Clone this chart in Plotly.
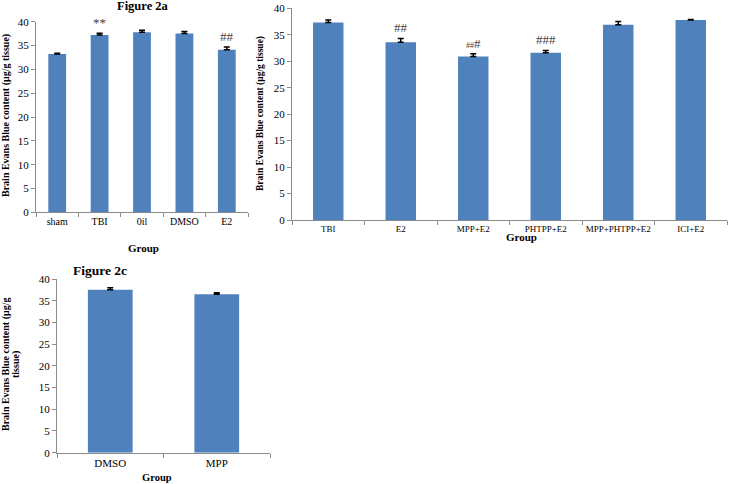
import plotly.graph_objects as go

# Panel a
cats_a = ["sham", "TBI", "0il", "DMSO", "E2"]
vals_a = [33.2, 37.2, 37.8, 37.5, 34.1]
errs_a = [0.2, 0.4, 0.4, 0.45, 0.6]
marks_a = ["", "**", "", "", "##"]

# Panel b
cats_b = ["TBI", "E2", "MPP+E2", "PHTPP+E2", "MPP+PHTPP+E2", "ICI+E2"]
vals_b = [37.3, 33.6, 30.9, 31.6, 36.9, 37.8]
errs_b = [0.5, 0.7, 0.5, 0.45, 0.6, 0.1]
marks_b = ["", "##", "<span style='font-size:8px'>##</span>#", "###", "", ""]

# Panel c
cats_c = ["DMSO", "MPP"]
vals_c = [37.5, 36.5]
errs_c = [0.5, 0.35]

y_ticks = [0, 5, 10, 15, 20, 25, 30, 35, 40]

W, H = 732, 484
BAR = "#4F81BD"
FONT = "Liberation Serif"
AXC = "#8c8c8c"


def px_x(p):
    return p / W


def px_y(p):
    return 1 - p / H


fig = go.Figure()

panels = [
    ("x", "y", cats_a, vals_a, errs_a, (36, 248), (212.3, 21.7), 10),
    ("x2", "y2", cats_b, vals_b, errs_b, (292, 727), (220, 8.3), 9),
    ("x3", "y3", cats_c, vals_c, errs_c, (57, 270), (452.7, 279), 11),
]

for xa, ya, cats, vals, errs, (x0, x1), (yb, yt), xfs in panels:
    fig.add_trace(go.Bar(
        x=cats, y=vals, xaxis=xa, yaxis=ya,
        marker=dict(color=BAR, line=dict(width=0)),
        width=0.42,
        error_y=dict(type="data", array=errs, arrayminus=[0] * len(errs),
                     symmetric=False, visible=True, color="black",
                     thickness=1.5, width=3),
        showlegend=False, hoverinfo="skip",
    ))
    n = xa[1:]
    xkey = "xaxis" + n
    ykey = "yaxis" + n
    fig.layout[xkey] = dict(
        domain=[px_x(x0), px_x(x1)], anchor=ya, showline=True, linecolor=AXC,
        linewidth=1, ticks="outside", tickson="boundaries", ticklen=4,
        tickcolor=AXC, showgrid=False, zeroline=False, tickangle=0,
        tickfont=dict(family=FONT, size=xfs, color="black"), fixedrange=True,
    )
    fig.layout[ykey] = dict(
        domain=[px_y(yb), px_y(yt)], anchor=xa, range=[0, 40],
        tickvals=y_ticks, showline=True, linecolor=AXC, linewidth=1,
        ticks="outside", ticklen=4, tickcolor=AXC, showgrid=False,
        zeroline=False, tickfont=dict(family=FONT, size=11, color="black"),
        fixedrange=True,
    )

anns = []
for cats, vals, errs, marks, xr, yr in [
    (cats_a, vals_a, errs_a, marks_a, "x", "y"),
    (cats_b, vals_b, errs_b, marks_b, "x2", "y2"),
]:
    for c, v, e, m in zip(cats, vals, errs, marks):
        if m:
            anns.append(dict(x=c, y=v + e, xref=xr, yref=yr, text=m,
                             showarrow=False, yanchor="bottom", yshift=1,
                             font=dict(family=FONT, size=13, color="#444")))


def txt(x, y, t, size, bold=True, angle=0, xanchor="center", yanchor="middle"):
    s = f"<b>{t}</b>" if bold else t
    anns.append(dict(x=px_x(x), y=px_y(y), xref="paper", yref="paper", text=s,
                     showarrow=False, textangle=angle, xanchor=xanchor,
                     yanchor=yanchor,
                     font=dict(family=FONT, size=size, color="black")))


txt(143, 6, "Figure 2a", 12.5)
txt(143, 248, "Group", 11)
txt(6, 116, "Brain Evans Blue content (μg/g tissue)", 10, angle=-90)

txt(521, 237, "Group", 11)
txt(260, 114, "Brain Evans Blue content (μg/g tissue)", 9.5, angle=-90)

txt(100, 270, "Figure 2c", 13.5)
txt(157, 477, "Group", 10.5)
txt(6, 365, "Brain Evans Blue content (μg/g", 10, angle=-90)
txt(16, 365, "tissue)", 10, angle=-90)

fig.update_layout(
    width=W, height=H,
    margin=dict(l=0, r=0, t=0, b=0, autoexpand=False),
    paper_bgcolor="white", plot_bgcolor="white",
    annotations=anns, bargap=0.58,
)

fig.write_html(
    "out.html",
    config={"displayModeBar": False},
    post_script="document.body.style.margin='0';document.body.style.overflow='hidden';",
)
